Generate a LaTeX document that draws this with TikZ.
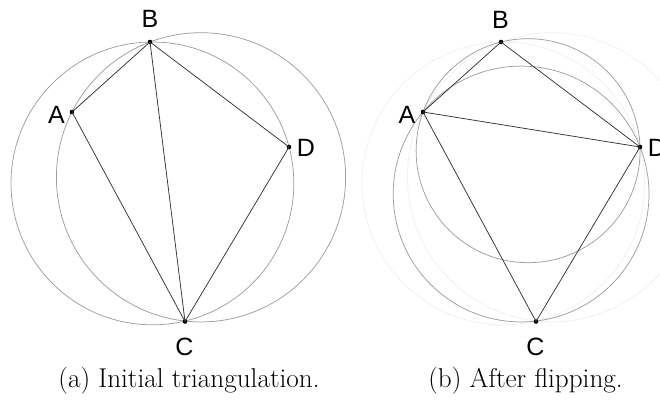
\documentclass[tikz,border=0pt]{standalone}
\usepackage{fontspec}
\newfontfamily\labfont{Liberation Sans}
\begin{document}
\begin{tikzpicture}[x=1pt,y=-1pt,
  vert/.style={circle,fill=black,inner sep=0pt,minimum size=4.6pt},
  lab/.style={font=\labfont\fontsize{25}{28}\selectfont,inner sep=0pt},
  edge/.style={draw=black!80,line width=0.75pt},
  circ/.style={draw=black!38,line width=0.75pt},
  ghost/.style={draw=black!6,line width=0.75pt},
  captext/.style={font=\fontsize{27.2}{32}\selectfont,inner sep=0pt}]
\useasboundingbox (0,0) rectangle (660,408);
% ---------- (a) ----------
\begin{scope}
\draw[circ] (201,177.3) circle (144.6);
\draw[circ] (152.4,183.4) circle (141.4);
\node[vert] (aA) at (72,112) {};
\node[vert] (aB) at (150,42) {};
\node[vert] (aC) at (185,321.5) {};
\node[vert] (aD) at (289,147) {};
\draw[edge] (aA.center) -- (aB.center);
\draw[edge] (aB.center) -- (aD.center);
\draw[edge] (aD.center) -- (aC.center);
\draw[edge] (aC.center) -- (aA.center);
\draw[edge] (aB.center) -- (aC.center);
\node[lab] (laA) at (56.5,115) {A};
\node[lab] (laB) at (150,19) {B};
\node[lab] (laC) at (184.5,347) {C};
\node[lab] (laD) at (306,148) {D};
\node[captext] (capa) at (189,381) {(a) Initial triangulation.};
\end{scope}
% ---------- (b) ----------
\begin{scope}[xshift=351pt]
\draw[ghost] (201,177.3) circle (144.6);
\draw[ghost] (152.4,183.4) circle (141.4);
\draw[circ] (177.1,150.7) circle (112.0);
\draw[circ] (170.1,194.0) circle (127.9);
\node[vert] (bA) at (72,112) {};
\node[vert] (bB) at (150,42) {};
\node[vert] (bC) at (185,321.5) {};
\node[vert] (bD) at (289,147) {};
\draw[edge] (bA.center) -- (bB.center);
\draw[edge] (bB.center) -- (bD.center);
\draw[edge] (bD.center) -- (bC.center);
\draw[edge] (bC.center) -- (bA.center);
\draw[edge] (bA.center) -- (bD.center);
\node[lab] (lbA) at (56,115) {A};
\node[lab] (lbB) at (149.5,20) {B};
\node[lab] (lbC) at (184.5,347) {C};
\node[lab] (lbD) at (306,148) {D};
\node[captext] (capb) at (174.5,381) {(b) After flipping.};
\end{scope}
\end{tikzpicture}
\end{document}
